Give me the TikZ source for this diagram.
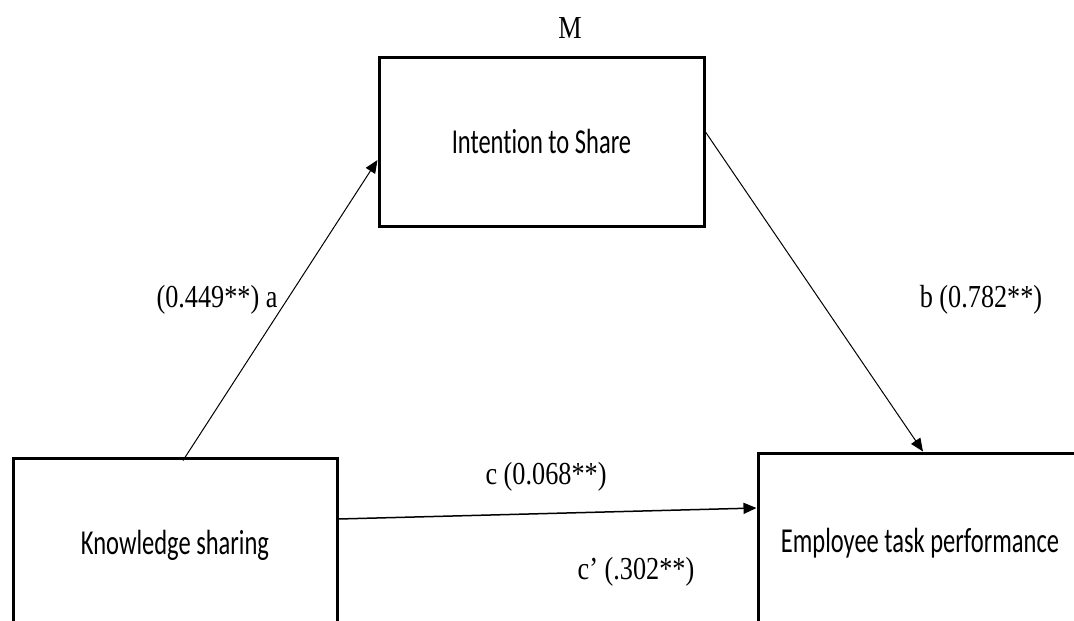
\documentclass[tikz,border=0pt]{standalone}
\usepackage{graphicx}
\usepackage{fontspec}
\setmainfont{Liberation Serif}
\newfontfamily\boxfont[Ligatures=NoCommon]{Carlito}
\usetikzlibrary{arrows.meta,calc}
\newcommand\sxb[1]{\scalebox{0.7}[1]{#1}}
\newcommand\sxl[1]{\scalebox{0.82}[1]{#1}}
\begin{document}
\begin{tikzpicture}[x=1pt,y=-1pt,
  box/.style={draw,line width=3pt,inner sep=0pt,font=\boxfont\fontsize{35}{40}\selectfont},
  lab/.style={inner sep=0pt,font=\fontsize{32}{36}\selectfont},
  arr/.style={line width=1pt,-{Triangle[length=13pt,width=11pt]}}]
\useasboundingbox (0,0) rectangle (1074,621);
\clip (0,0) rectangle (1074,621);
\fill[white] (0,0) rectangle (1074,621);
\node[box,minimum width=325pt,minimum height=169pt] (its) at (541.5,141.5) {\sxb{Intention to Share}};
\node[box,minimum width=324pt,minimum height=174pt] (ks) at (175,545) {\sxb{Knowledge sharing}};
\node[box,minimum width=324pt,minimum height=180pt] (etp) at (920,543) {\sxb{Employee task performance}};
\node[lab] (m) at (570,28) {\sxl{M}};
\node[lab] (la) at (217,300) {\sxl{(0.449**) a}};
\node[lab] (lb) at (981,300) {\sxl{b (0.782**)}};
\node[lab] (lc) at (546,477) {\sxl{c (0.068**)}};
\node[lab] (lcp) at (636,572) {\sxl{c’ (.302**)}};
\draw[arr] ([xshift=8pt,yshift=-4pt]ks.north) -- ([yshift=-18.5pt]its.west);
\draw[arr] ([yshift=9.5pt]its.east) -- ([xshift=3pt]etp.north);
\draw[arr,line width=1.5pt] ([yshift=26pt]ks.east) -- ([yshift=35pt]etp.west);
\end{tikzpicture}
\end{document}
